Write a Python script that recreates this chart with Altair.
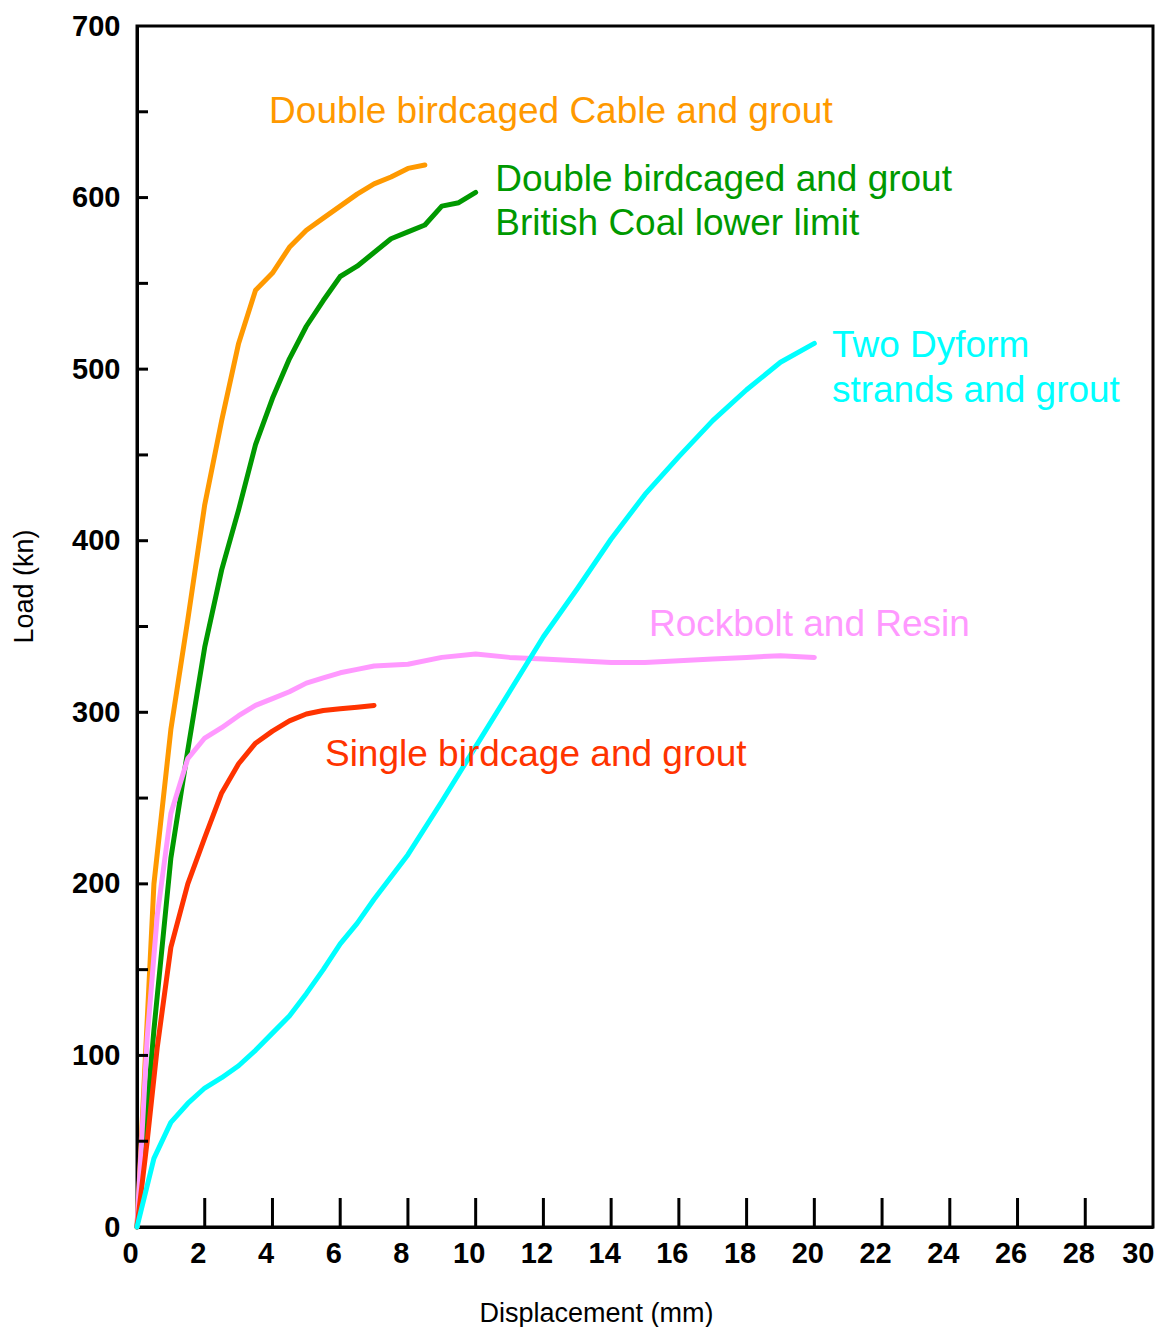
import altair as alt
import pandas as pd

# ---- data ----
orange_x = [0, 0.5, 1, 1.5, 2, 2.5, 3, 3.5, 4, 4.5, 5, 5.5, 6, 6.5, 7, 7.5, 8, 8.5]
orange_y = [0, 200, 290, 354, 421, 470, 515, 546, 556, 571, 581, 588, 595, 602, 608, 612, 617, 619]

green_x = [0, 0.5, 1, 1.5, 2, 2.5, 3, 3.5, 4, 4.5, 5, 5.5, 6, 6.5, 7, 7.5, 8, 8.5, 9, 9.5, 10]
green_y = [0, 115, 215, 278, 338, 383, 418, 456, 483, 506, 525, 540, 554, 560, 568, 576, 580, 584, 595, 597, 603]

pink_x = [0, 0.3, 0.6, 1, 1.5, 2, 2.5, 3, 3.5, 4, 4.5, 5, 5.5, 6, 6.5, 7, 8, 9, 10, 11, 12, 13, 14, 15, 16, 17, 18, 19, 20]
pink_y = [0, 110, 182, 241, 273, 285, 291, 298, 304, 308, 312, 317, 320, 323, 325, 327, 328, 332, 334, 332, 331, 330, 329, 329, 330, 331, 332, 333, 332]

red_x = [0, 0.3, 0.6, 1, 1.5, 2, 2.5, 3, 3.5, 4, 4.5, 5, 5.5, 6, 6.5, 7]
red_y = [0, 50, 105, 163, 200, 227, 253, 270, 282, 289, 295, 299, 301, 302, 303, 304]

cyan_x = [0, 0.5, 1, 1.5, 2, 2.5, 3, 3.5, 4, 4.5, 5, 5.5, 6, 6.5, 7, 8, 9, 10, 11, 12, 13, 14, 15, 16, 17, 18, 19, 20]
cyan_y = [0, 40, 61, 72, 81, 87, 94, 103, 113, 123, 136, 150, 165, 177, 191, 217, 248, 280, 312, 344, 372, 401, 427, 449, 470, 488, 504, 515]

series_names = ["Double birdcaged Cable and grout", "Double birdcaged and grout",
                "Rockbolt and Resin", "Single birdcage and grout", "Two Dyform strands and grout"]
series_colors = ["#FF9900", "#009900", "#FF99FF", "#FF3300", "#00FFFF"]

label_text = ["Double birdcaged Cable and grout", "Double birdcaged and grout",
              "British Coal lower limit", "Two Dyform", "strands and grout",
              "Rockbolt and Resin", "Single birdcage and grout"]
label_x = [3.90, 10.58, 10.58, 20.52, 20.52, 15.12, 5.55]
label_y = [650.0, 610.5, 584.5, 513.6, 487.4, 351.0, 275.2]
label_color = ["#FF9900", "#009900", "#009900", "#00FFFF", "#00FFFF", "#FF99FF", "#FF3300"]

x_tick_values = list(range(2, 30, 2))
y_tick_values = list(range(50, 700, 50))
x_label_values = list(range(0, 31, 2))
y_label_values = list(range(0, 701, 100))

# ---- build tables ----
rows = []
for name, xs, ys in zip(series_names,
                        [orange_x, green_x, pink_x, red_x, cyan_x],
                        [orange_y, green_y, pink_y, red_y, cyan_y]):
    for i, (a, b) in enumerate(zip(xs, ys)):
        rows.append({"series": name, "x": a, "y": b, "order": i})
lines_df = pd.DataFrame(rows)
labels_df = pd.DataFrame({"text": label_text, "x": label_x, "y": label_y, "color": label_color})
xt_df = pd.DataFrame({"t": x_tick_values})
yt_df = pd.DataFrame({"t": y_tick_values})

W, H = 1016, 1201
FONT = "Liberation Sans, Arial, sans-serif"

xscale = alt.Scale(domain=[0, 30], nice=False, zero=False)
yscale = alt.Scale(domain=[0, 700], nice=False, zero=False)

xaxis = alt.Axis(values=x_label_values, title="Displacement (mm)", grid=False, ticks=False, tickSize=0,
                 labelFont=FONT, labelFontSize=29, labelFontWeight="bold", labelColor="black",
                 labelPadding=12, labelOffset=-7, labelFlush=True, labelFlushOffset=8, labelOverlap=False,
                 domainColor="black", domainWidth=3,
                 titleFont=FONT, titleFontSize=27, titleFontWeight="normal", titleColor="black",
                 titleX=459, titleY=94, titleBaseline="alphabetic", titleAlign="center")
yaxis = alt.Axis(values=y_label_values, title="Load (kn)", grid=False, ticks=False, tickSize=0,
                 labelFont=FONT, labelFontSize=29, labelFontWeight="bold", labelColor="black",
                 labelPadding=17, labelFlush=False, labelOverlap=False,
                 domainColor="black", domainWidth=3,
                 titleFont=FONT, titleFontSize=27, titleFontWeight="normal", titleColor="black",
                 titleX=-105, titleY=560, titleBaseline="alphabetic", titleAlign="center", titleAngle=270)

lines = alt.Chart(lines_df).mark_line(strokeWidth=5, strokeCap="round", strokeJoin="round").encode(
    x=alt.X("x:Q", scale=xscale, axis=xaxis),
    y=alt.Y("y:Q", scale=yscale, axis=yaxis),
    color=alt.Color("series:N", scale=alt.Scale(domain=series_names, range=series_colors), legend=None),
    detail="series:N",
    order="order:Q",
)

xticks = alt.Chart(xt_df).mark_rule(color="black", strokeWidth=3).encode(
    x=alt.X("t:Q", scale=xscale),
    y=alt.value(H), y2=alt.value(H - 29),
)
yticks = alt.Chart(yt_df).mark_rule(color="black", strokeWidth=3).encode(
    y=alt.Y("t:Q", scale=yscale),
    x=alt.value(0), x2=alt.value(11),
)

texts = alt.Chart(labels_df).mark_text(align="left", baseline="middle", font=FONT, fontSize=37).encode(
    x=alt.X("x:Q", scale=xscale),
    y=alt.Y("y:Q", scale=yscale),
    text="text:N",
    color=alt.Color("color:N", scale=None),
)

chart = alt.layer(lines, xticks, yticks, texts).properties(
    width=W, height=H,
    autosize=alt.AutoSizeParams(type="none"),
    padding={"left": 129, "top": 18, "right": 8, "bottom": 100},
    background="white",
).configure_view(stroke="black", strokeWidth=3)

chart.save("out.html", embed_options={"renderer": "svg", "actions": False})
